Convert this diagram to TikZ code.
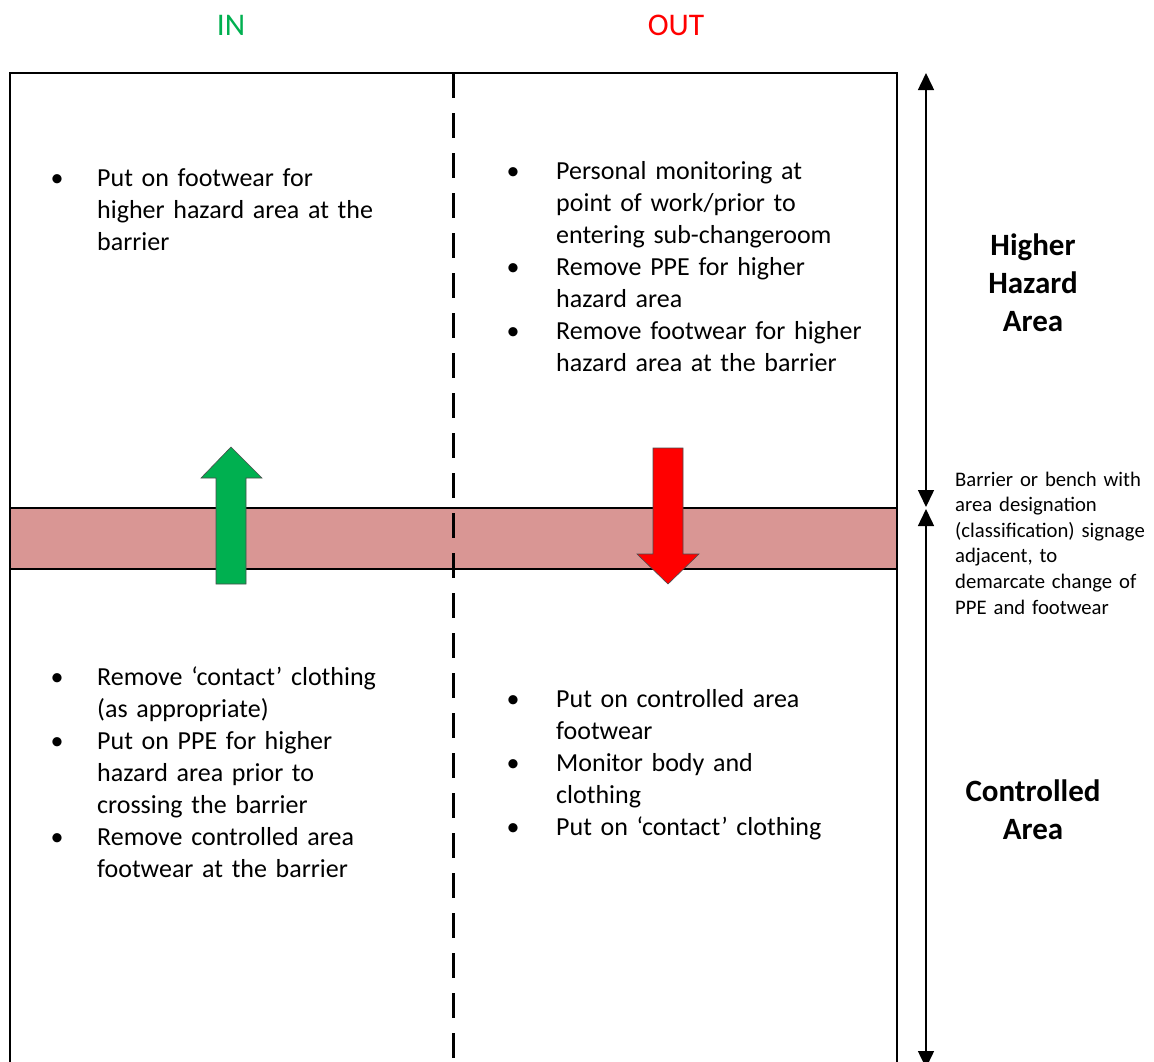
\documentclass[tikz,border=0pt]{standalone}
\usepackage{fontspec}
\setmainfont{Carlito}
\usetikzlibrary{arrows.meta}
\definecolor{barrier}{RGB}{217,150,148}
\definecolor{ingreen}{RGB}{0,176,80}
\definecolor{outred}{RGB}{255,0,0}
\tikzset{
  bodytext/.style={font=\fontsize{26}{32}\selectfont, inner sep=0pt, anchor=base west, text width=360pt, align=left},
  bul/.style={font=\fontsize{26}{32}\selectfont, inner sep=0pt, anchor=base},
  header/.style={font=\fontsize{31.5}{38}\selectfont, inner sep=0pt},
  zone/.style={font=\fontsize{31}{38}\selectfont\bfseries, inner sep=0pt, align=center},
  note/.style={font=\fontsize{20.7}{25.6}\selectfont, inner sep=0pt, anchor=base west, text width=200pt, align=left},
  dim/.style={line width=1.5pt, {Triangle[width=16pt,length=17pt]}-{Triangle[width=16pt,length=17pt]}},
  blockarrow/.style={draw=black!70, line width=0.6pt},
}
\begin{document}
\begin{tikzpicture}[x=1pt,y=-1pt]
\useasboundingbox (0,0) rectangle (1154,1061);
\clip (0,0) rectangle (1154,1061);
\fill[white] (0,0) rectangle (1154,1061);
% barrier band
\fill[barrier] (10,508) rectangle (897,569);
\draw[line width=2pt] (10,508) -- (897,508) (10,569) -- (897,569);
% outer box
\draw[line width=2pt] (10,1080) -- (10,73) -- (897,73) -- (897,1080);
% dashed divider
\coordinate (dtop) at (453,73);
\coordinate (dbot) at (453,1080);
\draw[line width=3pt, dash pattern=on 25pt off 15pt] (dtop) -- (dbot);
% block arrows
\draw[blockarrow, fill=ingreen] (216,584) -- (216,478) -- (201,478) -- (231,447) -- (262,478) -- (246,478) -- (246,584) -- cycle;
\draw[blockarrow, fill=outred] (653,448) -- (683,448) -- (683,554) -- (699,554) -- (668,584) -- (637,554) -- (653,554) -- cycle;
% dimension arrows
\coordinate (d1) at (926,73);
\coordinate (d2) at (926,507);
\coordinate (d3) at (926,509);
\coordinate (d4) at (926,1068);
\draw[dim] (d1) -- (d2);
\draw[dim] (d3) -- (d4);
% headers
\node[header, text=ingreen] (hin) at (231,25) {IN};
\node[header, text=outred] (hout) at (676,25) {OUT};
% zone labels
\node[zone] (zhigh) at (1033,283) {Higher\\Hazard\\Area};
\node[zone] (zctrl) at (1033,810) {Controlled\\Area};
% note
\node[note] (note) at (955,486) {Barrier or bench with\\area designation\\(classification) signage\\adjacent, to\\demarcate change of\\PPE and footwear};
% left top
\node[bul] (b1) at (57,186) {•};
\node[bodytext] (t1) at (97,186) {Put on footwear for\\higher hazard area at the\\barrier};
% right top
\node[bul] (b2) at (513,179) {•};
\node[bodytext] (t2) at (556,179) {Personal monitoring at\\point of work/prior to\\entering sub-changeroom};
\node[bul] (b3) at (513,275) {•};
\node[bodytext] (t3) at (556,275) {Remove PPE for higher\\hazard area};
\node[bul] (b4) at (513,339) {•};
\node[bodytext] (t4) at (556,339) {Remove footwear for higher\\hazard area at the barrier};
% left bottom
\node[bul] (b5) at (57,685) {•};
\node[bodytext] (t5) at (97,685) {Remove ‘contact’ clothing\\(as appropriate)};
\node[bul] (b6) at (57,749) {•};
\node[bodytext] (t6) at (97,749) {Put on PPE for higher\\hazard area prior to\\crossing the barrier};
\node[bul] (b7) at (57,845) {•};
\node[bodytext] (t7) at (97,845) {Remove controlled area\\footwear at the barrier};
% right bottom
\node[bul] (b8) at (513,707) {•};
\node[bodytext] (t8) at (556,707) {Put on controlled area\\footwear};
\node[bul] (b9) at (513,771) {•};
\node[bodytext] (t9) at (556,771) {Monitor body and\\clothing};
\node[bul] (b10) at (513,835) {•};
\node[bodytext] (t10) at (556,835) {Put on ‘contact’ clothing};
\end{tikzpicture}
\end{document}
